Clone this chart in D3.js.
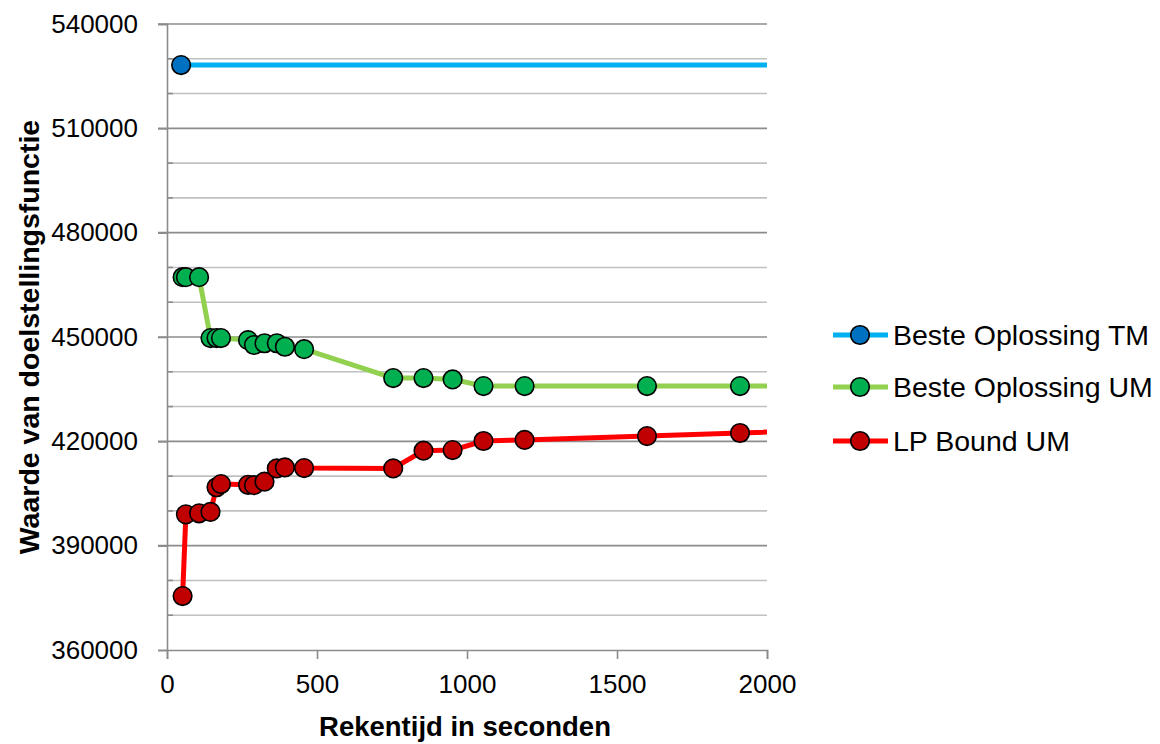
<!DOCTYPE html>
<html><head><meta charset="utf-8">
<script src="https://cdn.jsdelivr.net/npm/d3@7"></script>
<style>body{margin:0;background:#fff}svg{display:block}</style>
</head><body>
<svg id="chart" width="1160" height="744"></svg>
<script>
const seriesNames = ["Beste Oplossing TM", "Beste Oplossing UM", "LP Bound UM"];
const tmTimes = [47, 2500];
const tmValues = [528200, 528200];
const umTimes = [52, 63, 107, 145, 165, 180, 270, 290, 325, 366, 393, 457, 754, 855, 952, 1055, 1192, 1600, 1910, 2500];
const umValues = [467200, 467200, 467200, 449700, 449700, 449700, 449100, 447700, 448200, 448200, 447200, 446500, 438200, 438200, 437800, 435900, 435900, 435900, 435900, 435900];
const lpTimes = [52, 63, 107, 145, 165, 180, 270, 290, 325, 366, 393, 457, 754, 855, 952, 1055, 1192, 1600, 1910, 2500];
const lpValues = [375500, 399000, 399300, 399700, 406800, 407700, 407500, 407400, 408400, 412200, 412500, 412300, 412200, 417300, 417500, 420100, 420400, 421500, 422400, 424100];
const xTicks = [0, 500, 1000, 1500, 2000];
const yMajorTicks = [360000, 390000, 420000, 450000, 480000, 510000, 540000];
const yMinorTicks = d3.range(360000, 540001, 10000);
const xTitle = "Rekentijd in seconden";
const yTitle = "Waarde van doelstellingsfunctie";

const lineColors = ["#00B0F0", "#92D050", "#FF0000"];
const markerColors = ["#0070C0", "#00B050", "#C00000"];

const svg = d3.select("#chart");
const L = 167, R = 767, T = 24, B = 650;
const x = d3.scaleLinear().domain([0, 2000]).range([L, R]);
const y = d3.scaleLinear().domain([360000, 540000]).range([B, T]);
const font = "'Liberation Sans', Arial, sans-serif";

// minor gridlines
svg.append("g").selectAll("line").data(yMinorTicks.filter(v => !yMajorTicks.includes(v)))
  .join("line").attr("x1", L).attr("x2", R).attr("y1", d => y(d)).attr("y2", d => y(d))
  .attr("stroke", "#C0C0C0").attr("stroke-width", 1.6);
// major gridlines
svg.append("g").selectAll("line").data(yMajorTicks.filter(v => v !== 360000))
  .join("line").attr("x1", L - 9).attr("x2", R).attr("y1", d => y(d)).attr("y2", d => y(d))
  .attr("stroke", "#8C8C8C").attr("stroke-width", 1.6);
// minor inner ticks
svg.append("g").selectAll("line").data(yMinorTicks.filter(v => !yMajorTicks.includes(v)))
  .join("line").attr("x1", L).attr("x2", L + 6).attr("y1", d => y(d)).attr("y2", d => y(d))
  .attr("stroke", "#8C8C8C").attr("stroke-width", 1.6);

// y axis
const yAxis = svg.append("g").attr("transform", `translate(${L},0)`)
  .call(d3.axisLeft(y).tickValues(yMajorTicks).tickFormat(d3.format("d")).tickSize(9).tickPadding(20));
yAxis.select(".domain").attr("stroke", "#8C8C8C").attr("stroke-width", 1.6);
yAxis.selectAll(".tick line").attr("stroke", "#8C8C8C").attr("stroke-width", 1.6);
yAxis.selectAll("text").attr("font-family", font).attr("font-size", 26).attr("fill", "#000");

// x axis
const xAxis = svg.append("g").attr("transform", `translate(0,${B})`)
  .call(d3.axisBottom(x).tickValues(xTicks).tickFormat(d3.format("d")).tickSize(9).tickPadding(16));
xAxis.select(".domain").attr("stroke", "#8C8C8C").attr("stroke-width", 1.6);
xAxis.selectAll(".tick line").attr("stroke", "#8C8C8C").attr("stroke-width", 1.6);
xAxis.selectAll("text").attr("font-family", font).attr("font-size", 26).attr("fill", "#000");

// titles
svg.append("text").attr("x", 465).attr("y", 736).attr("text-anchor", "middle")
  .attr("font-family", font).attr("font-weight", "bold").attr("font-size", 27.5).text(xTitle);
svg.append("text").attr("transform", `translate(39,${(T + B) / 2}) rotate(-90)`).attr("text-anchor", "middle")
  .attr("font-family", font).attr("font-weight", "bold").attr("font-size", 28.5).text(yTitle);

// clip
svg.append("clipPath").attr("id", "plotclip").append("rect")
  .attr("x", L - 12).attr("y", T - 12).attr("width", R - L + 12).attr("height", B - T + 24);

const series = [
  {times: tmTimes, values: tmValues},
  {times: umTimes, values: umValues},
  {times: lpTimes, values: lpValues}
];
const lineGen = d3.line().x(d => x(d[0])).y(d => y(d[1]));
const plot = svg.append("g").attr("clip-path", "url(#plotclip)");
series.forEach((s, i) => {
  const pts = s.times.map((t, j) => [t, s.values[j]]);
  plot.append("path").datum(pts).attr("d", lineGen).attr("fill", "none")
    .attr("stroke", lineColors[i]).attr("stroke-width", 5).attr("stroke-linejoin", "round");
});
series.forEach((s, i) => {
  const pts = s.times.map((t, j) => [t, s.values[j]]).filter(d => d[0] <= 2000);
  plot.append("g").selectAll("circle").data(pts).join("circle")
    .attr("cx", d => x(d[0])).attr("cy", d => y(d[1])).attr("r", 9.3)
    .attr("fill", markerColors[i]).attr("stroke", "#000").attr("stroke-width", 1.6);
});

// legend
const legY = [335, 387, 441];
const leg = svg.append("g");
seriesNames.forEach((name, i) => {
  const g = leg.append("g").attr("transform", `translate(0,${legY[i]})`);
  g.append("line").attr("x1", 833).attr("x2", 888).attr("y1", 0).attr("y2", 0)
    .attr("stroke", lineColors[i]).attr("stroke-width", 5);
  g.append("circle").attr("cx", 860).attr("cy", 0).attr("r", 9.3)
    .attr("fill", markerColors[i]).attr("stroke", "#000").attr("stroke-width", 1.6);
  g.append("text").attr("x", 893).attr("y", 0).attr("dy", "0.35em")
    .attr("font-family", font).attr("font-size", 28.5).attr("fill", "#000").text(name);
});
</script>
</body></html>
